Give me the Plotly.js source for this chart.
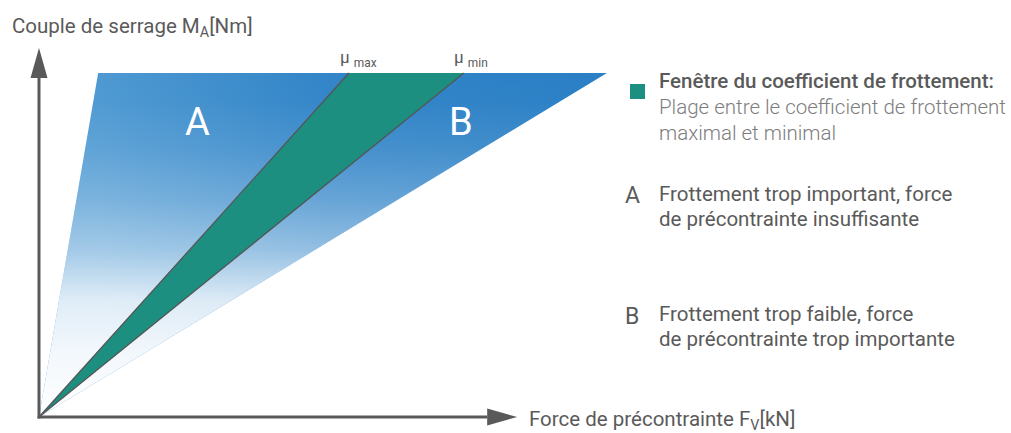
<!DOCTYPE html>
<html>
<head>
<meta charset="utf-8">
<script src="https://cdn.plot.ly/plotly-3.0.1.min.js"></script>
<style>
  html, body { margin: 0; padding: 0; background: #fff; }
  #chart { width: 1011px; height: 433px; }
</style>
</head>
<body>
<div id="chart"></div>
<script>
// torque / preload diagram with the friction coefficient window

// torque reached at the top edge of the wedge (arbitrary units)
const topTorque = 100;
// preload where each boundary line meets the top edge
const boundaryNames = ['A edge', 'μmax', 'μmin', 'B edge'];
const boundaryForce = [17.2, 90.1, 123.5, 165.1];
// where the two axis arrows end
const axisEndForce = 139;
const axisEndTorque = 107.3;

const regionLabels = ['A', 'B'];
const muLabels = ['max', 'min'];

const yTitle = 'Couple de serrage M<sub>A</sub>[Nm]';
const xTitle = 'Force de précontrainte F<sub>V</sub>[kN]';
const windowTitle = 'Fenêtre du coefficient de frottement:';
const windowText = ['Plage entre le coefficient de frottement', 'maximal et minimal'];
const aText = ['Frottement trop important, force', 'de précontrainte insuffisante'];
const bText = ['Frottement trop faible, force', 'de précontrainte trop importante'];

// page geometry
const W = 1011, H = 433;
const k = 3.44;            // px per unit
const ox = 39, oy = 417;   // origin in px
const px = x => x / W;
const py = y => 1 - y / H;

const gray = '#595959';
const textGray = '#5a5a5a';
const lightGray = '#7d7d7d';
const teal = '#1c8f80';
const font = 'Roboto, "Open Sans", sans-serif';
const fs = 20.5;

const wedgeX = [0, boundaryForce[0], boundaryForce[3], 0];
const wedgeY = [0, topTorque, topTorque, 0];

const traces = [
  // blue wedge, darker to the right
  {
    x: wedgeX, y: wedgeY, type: 'scatter', mode: 'none', fill: 'toself',
    fillcolor: '#3a8bcb',
    fillgradient: {
      type: 'horizontal', start: boundaryForce[0], stop: boundaryForce[3],
      colorscale: [[0, '#4e99d2'], [0.45, '#3285c8'], [1, '#2a7fc5']]
    }
  },
  // fade to white towards the origin
  {
    x: wedgeX, y: wedgeY, type: 'scatter', mode: 'none', fill: 'toself',
    fillcolor: 'rgba(255,255,255,0)',
    fillgradient: {
      type: 'vertical', start: 0, stop: topTorque,
      colorscale: [
        [0, 'rgba(255,255,255,1)'],
        [0.18, 'rgba(250,252,254,0.96)'],
        [0.34, 'rgba(255,255,255,0.82)'],
        [0.485, 'rgba(255,255,255,0.48)'],
        [0.63, 'rgba(255,255,255,0.26)'],
        [0.78, 'rgba(255,255,255,0.1)'],
        [0.92, 'rgba(255,255,255,0.01)'],
        [1, 'rgba(255,255,255,0)']
      ]
    }
  },
  // friction window
  {
    x: [0, boundaryForce[1], boundaryForce[2], 0],
    y: [0, topTorque, topTorque, 0],
    type: 'scatter', mode: 'none', fill: 'toself', fillcolor: teal
  }
];

// mu max / mu min lines
[1, 2].forEach(i => {
  traces.push({
    x: [0, boundaryForce[i]], y: [0, topTorque],
    type: 'scatter', mode: 'lines', name: boundaryNames[i],
    line: { color: '#555', width: 1.3 }
  });
});

const ah = 8.5 / k;        // arrow half width
const al = 30 / k;         // arrow length
const shapes = [
  { type: 'line', xref: 'x', yref: 'y', x0: -0.4, y0: 0, x1: axisEndForce - al, y1: 0,
    line: { color: gray, width: 3 } },
  { type: 'line', xref: 'x', yref: 'y', x0: 0, y0: -0.4, x1: 0, y1: axisEndTorque - al,
    line: { color: gray, width: 3 } },
  { type: 'path', xref: 'x', yref: 'y',
    path: `M ${axisEndForce - al},${-ah} L ${axisEndForce},0 L ${axisEndForce - al},${ah} Z`,
    fillcolor: gray, line: { width: 0 } },
  { type: 'path', xref: 'x', yref: 'y',
    path: `M ${-ah},${axisEndTorque - al} L 0,${axisEndTorque} L ${ah},${axisEndTorque - al} Z`,
    fillcolor: gray, line: { width: 0 } },
  // legend swatch
  { type: 'rect', xref: 'paper', yref: 'paper',
    x0: px(630), x1: px(645), y0: py(99), y1: py(84),
    fillcolor: teal, line: { width: 0 } }
];

function txt(text, x, y, size, color, weight) {
  return {
    text: text, xref: 'paper', yref: 'paper', x: px(x), y: py(y),
    xanchor: 'left', yanchor: 'middle', showarrow: false,
    font: { family: font, size: size, color: color, weight: weight || 400 }
  };
}

const annotations = [
  txt(yTitle, 10, 27, fs, textGray),
  txt(xTitle, 527, 420, fs, textGray),
  txt(windowTitle, 657, 81, fs, textGray, 500),
  txt(windowText[0], 657, 107, fs, lightGray, 300),
  txt(windowText[1], 657, 133, fs, lightGray, 300),
  txt('A', 623, 195, 23, textGray),
  txt(aText[0], 657, 194, fs, textGray),
  txt(aText[1], 657, 219, fs, textGray),
  txt('B', 623, 316, 23, textGray),
  txt(bText[0], 657, 314, fs, textGray),
  txt(bText[1], 657, 339, fs, textGray)
];

// mu labels above the top ends of the lines
muLabels.forEach((m, i) => {
  annotations.push({
    text: 'μ <sub>' + m + '</sub>', xref: 'x', yref: 'y',
    x: boundaryForce[i + 1] - 3.3, y: topTorque + 0.4,
    xanchor: 'left', yanchor: 'bottom', showarrow: false,
    font: { family: font, size: 17, color: textGray }
  });
});

// big region letters
const regionX = [46.2, 122.7];
regionLabels.forEach((r, i) => {
  annotations.push({
    text: r, xref: 'x', yref: 'y', x: regionX[i], y: 85.8,
    xanchor: 'center', yanchor: 'middle', showarrow: false,
    font: { family: font, size: 38, color: '#ffffff' }
  });
});

Plotly.newPlot('chart', traces, {
  width: W, height: H,
  margin: { l: 0, r: 0, t: 0, b: 0 },
  paper_bgcolor: '#fff', plot_bgcolor: '#fff',
  showlegend: false, hovermode: false,
  xaxis: { range: [-ox / k, (W - ox) / k], visible: false, fixedrange: true },
  yaxis: { range: [-(H - oy) / k, oy / k], visible: false, fixedrange: true },
  shapes: shapes,
  annotations: annotations
}, { staticPlot: true });
</script>
</body>
</html>
